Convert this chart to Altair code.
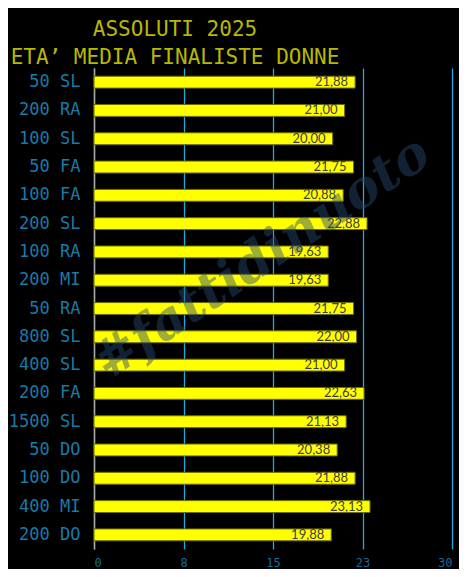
import altair as alt
import pandas as pd

events = ["50 SL", "200 RA", "100 SL", "50 FA", "100 FA", "200 SL", "100 RA", "200 MI",
          "50 RA", "800 SL", "400 SL", "200 FA", "1500 SL", "50 DO", "100 DO", "400 MI", "200 DO"]
ages = [21.88, 21.00, 20.00, 21.75, 20.88, 22.88, 19.63, 19.63,
        21.75, 22.00, 21.00, 22.63, 21.13, 20.38, 21.88, 23.13, 19.88]
x_ticks = [0, 7.5, 15, 22.5, 30]
title_lines = ["ASSOLUTI 2025", "ETA’ MEDIA FINALISTE DONNE"]
watermark = ["#fattidinuoto"]

df = pd.DataFrame({"evento": events, "eta": ages})

y_enc = alt.Y("evento:N", sort=events, title=None,
              scale=alt.Scale(paddingInner=0.58, paddingOuter=0.29),
              axis=alt.Axis(labelFont="DejaVu Sans Mono", labelFontSize=17,
                            labelColor="#1a7aa8", labelPadding=14, ticks=False,
                            domain=True, domainColor="#a6a6a6", domainWidth=1.5,
                            grid=False))
x_enc = alt.X("eta:Q", title=None,
              scale=alt.Scale(domain=[0, 30], nice=False),
              axis=alt.Axis(values=x_ticks, format=".0f", labelFont="DejaVu Sans Mono",
                            labelFontSize=12, labelColor="#1a6a96", ticks=False,
                            domain=False, labelPadding=8, grid=True,
                            gridColor="#22a8e0", gridWidth=1.3))

base = alt.Chart(df)

bars = base.mark_bar(color="#ffff00", stroke="#6b6b00", strokeWidth=1).encode(x=x_enc, y=y_enc)

labels = base.transform_calculate(
    lab="replace(format(datum.eta, '.2f'), '.', ',')"
).mark_text(align="right", baseline="middle", dx=-7, dy=0, font="Lato",
            fontSize=13, color="#404040").encode(
    x=alt.X("eta:Q"), y=alt.Y("evento:N", sort=events), text="lab:N")

wm = alt.Chart(pd.DataFrame({"t": watermark})).mark_text(
    font="DejaVu Serif", fontStyle="italic", fontWeight="bold", fontSize=52,
    angle=326, color="#2b4b73", opacity=0.45, align="center", baseline="middle"
).encode(text="t:N", x=alt.value(168), y=alt.value(190))

chart = alt.layer(bars, labels, wm).properties(
    width=358, height=481,
    background="#000000",
    padding={"left": 86, "top": 60, "right": 7, "bottom": 20},
    autosize=alt.AutoSizeParams(type="none"),
    title=alt.TitleParams(text=title_lines, font="DejaVu Sans Mono", fontSize=21,
                          fontWeight="normal", color="#b8b800", lineHeight=28,
                          anchor="start", align="center", dx=81, frame="group",
                          baseline="bottom", offset=-21),
).configure_view(stroke=None)

chart.save("out.html", embed_options={"renderer": "svg", "actions": False})
